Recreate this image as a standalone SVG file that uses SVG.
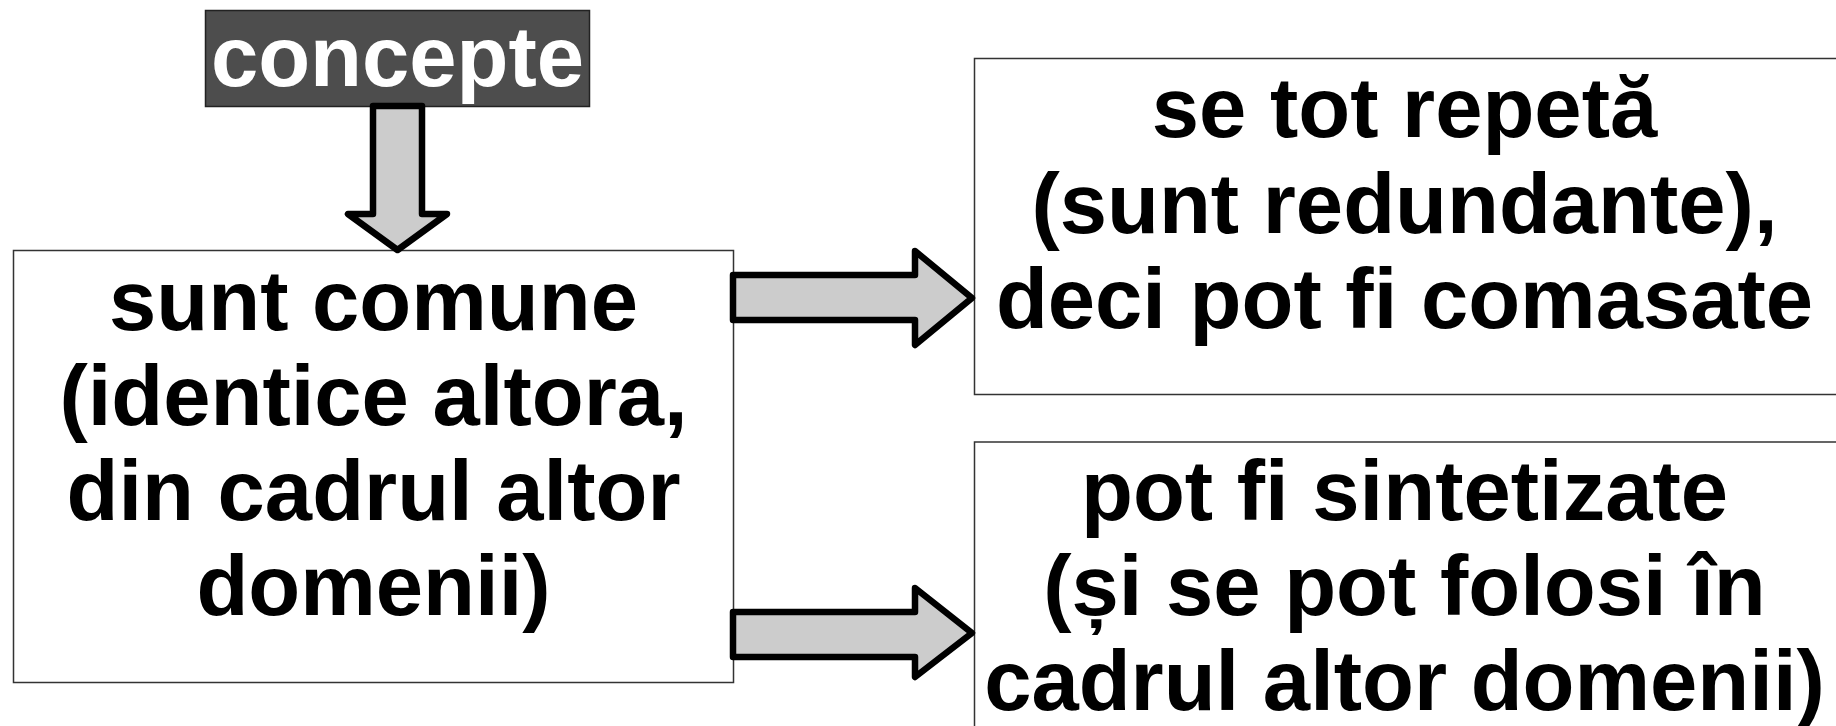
<svg xmlns="http://www.w3.org/2000/svg" width="1836" height="726" viewBox="0 0 1836 726">
<style>
.box{fill:#ffffff;stroke:#333333;stroke-width:1.5}
.t{font-family:"Liberation Sans",Arial,sans-serif;font-weight:bold;font-size:85px;text-anchor:middle;fill:#000000}
.arr{fill:#cccccc;stroke:#000000;stroke-width:6.5;stroke-linejoin:round}
</style>
<rect width="1836" height="726" fill="#ffffff"/>
<g id="node-concepte">
<rect x="205.5" y="10.5" width="384" height="96" fill="#4d4d4d" stroke="#222222" stroke-width="1.5"/>
<text class="t" x="397.5" y="86" style="fill:#ffffff">concepte</text>
</g>
<g id="node-comune">
<rect class="box" x="13.5" y="250.5" width="720" height="432"/>
<text class="t" x="373.5" y="329.5">sunt comune</text>
<text class="t" x="373.5" y="424.5">(identice altora,</text>
<text class="t" x="373.5" y="519.5">din cadrul altor</text>
<text class="t" x="373.5" y="614.5">domenii)</text>
</g>
<g id="node-repeta">
<rect class="box" x="974.5" y="58.5" width="880" height="336"/>
<text class="t" x="1404.5" y="137">se tot repetă</text>
<text class="t" x="1404.5" y="232.5">(sunt redundante),</text>
<text class="t" x="1404.5" y="328">deci pot fi comasate</text>
</g>
<g id="node-sintetizate">
<rect class="box" x="974.5" y="442" width="880" height="320"/>
<text class="t" x="1404.5" y="520">pot fi sintetizate</text>
<text class="t" x="1404.5" y="615">(și se pot folosi în</text>
<text class="t" x="1404.5" y="710">cadrul altor domenii)</text>
</g>
<g id="connectors">
<polygon class="arr" points="373,106 422,106 422,214 447,214 397.5,250 348,214 373,214"/>
<polygon class="arr" points="733,275 915,275 915,251 972,298 915,345 915,320 733,320"/>
<polygon class="arr" points="733,612 915,612 915,588 972,633 915,677 915,657 733,657"/>
</g>
</svg>
